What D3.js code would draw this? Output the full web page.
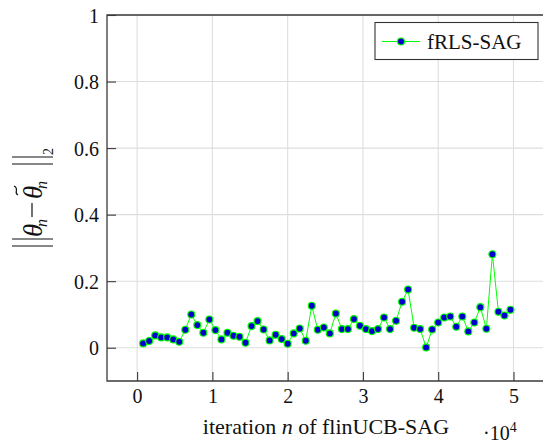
<!DOCTYPE html>
<html>
<head>
<meta charset="utf-8">
<script src="https://cdn.jsdelivr.net/npm/d3@7"></script>
<style>
  html, body { margin: 0; padding: 0; background: #fff; }
  svg { display: block; }
  text { font-family: "Liberation Serif", "DejaVu Serif", serif; fill: #111; }
</style>
</head>
<body>
<svg id="chart" width="543" height="448"></svg>
<script>
// ---- data ----
const iterations = [
  800, 1600, 2400, 3200, 4000, 4800, 5600, 6400, 7200, 8000,
  8800, 9600, 10400, 11200, 12000, 12800, 13600, 14400, 15200, 16000,
  16800, 17600, 18400, 19200, 20000, 20800, 21600, 22400, 23200, 24000,
  24800, 25600, 26400, 27200, 28000, 28800, 29600, 30400, 31200, 32000,
  32800, 33600, 34400, 35200, 36000, 36800, 37600, 38400, 39200, 40000,
  40800, 41600, 42400, 43200, 44000, 44800, 45600, 46400, 47200, 48000,
  48800, 49600
];
const errorNorm = [
  0.013, 0.020, 0.037, 0.031, 0.031, 0.025, 0.018, 0.054, 0.100, 0.068,
  0.045, 0.085, 0.053, 0.025, 0.045, 0.036, 0.033, 0.015, 0.065, 0.080,
  0.055, 0.022, 0.039, 0.026, 0.012, 0.043, 0.058, 0.021, 0.126, 0.054,
  0.061, 0.043, 0.103, 0.056, 0.056, 0.086, 0.066, 0.056, 0.050, 0.056,
  0.091, 0.056, 0.081, 0.138, 0.175, 0.060, 0.056, 0.001, 0.055, 0.076,
  0.091, 0.094, 0.063, 0.094, 0.049, 0.076, 0.122, 0.057, 0.281, 0.108,
  0.097, 0.114
];
const xTicks = [0, 10000, 20000, 30000, 40000, 50000];
const xTickLabels = ["0", "1", "2", "3", "4", "5"];
const yTicks = [0, 0.2, 0.4, 0.6, 0.8, 1];
const yTickLabels = ["0", "0.2", "0.4", "0.6", "0.8", "1"];
const seriesName = "fRLS-SAG";

// ---- layout ----
const svg = d3.select("#chart");
const pLeft = 107, pRight = 543.6, pTop = 15, pBottom = 381;
const x = d3.scaleLinear().domain([-4000, 54000]).range([pLeft, pRight]);
const y = d3.scaleLinear().domain([-0.1, 1]).range([pBottom, pTop]);
const axisColor = "#3a3a3a";
const gridColor = "#dedede";
const serif = '"Liberation Serif", "DejaVu Serif", serif';

svg.append("defs").append("clipPath").attr("id", "plotclip")
  .append("rect").attr("x", pLeft).attr("y", pTop)
  .attr("width", pRight - pLeft).attr("height", pBottom - pTop);

// grid
const grid = svg.append("g");
grid.selectAll("line.gx").data(xTicks).enter().append("line")
  .attr("x1", d => x(d)).attr("x2", d => x(d))
  .attr("y1", pTop).attr("y2", pBottom)
  .attr("stroke", gridColor).attr("stroke-width", 1.1);
grid.selectAll("line.gy").data(yTicks).enter().append("line")
  .attr("x1", pLeft).attr("x2", pRight)
  .attr("y1", d => y(d)).attr("y2", d => y(d))
  .attr("stroke", gridColor).attr("stroke-width", 1.1);

// axes via d3 axis generators
const xAxis = d3.axisBottom(x).tickValues(xTicks).tickSize(0).tickPadding(0)
  .tickFormat((d, i) => xTickLabels[i]);
const gx = svg.append("g").attr("transform", `translate(0,${pBottom})`).call(xAxis)
  .attr("font-family", serif).attr("font-size", 20);
gx.select(".domain").remove();
gx.selectAll(".tick text")
  .attr("y", 22).attr("dy", null)
  .style("font-family", serif).style("font-size", "20px").attr("fill", "#111");
gx.selectAll(".tick").append("line")
  .attr("x1", 0).attr("x2", 0).attr("y1", 0).attr("y2", -9)
  .attr("stroke", axisColor).attr("stroke-width", 1.1);

const yAxis = d3.axisLeft(y).tickValues(yTicks).tickSize(0).tickPadding(0)
  .tickFormat((d, i) => yTickLabels[i]);
const gy = svg.append("g").attr("transform", `translate(${pLeft},0)`).call(yAxis)
  .attr("font-family", serif).attr("font-size", 20);
gy.select(".domain").remove();
gy.selectAll(".tick text")
  .attr("x", -8).attr("dy", "0.35em")
  .style("font-family", serif).style("font-size", "20px").attr("fill", "#111");
gy.selectAll(".tick").append("line")
  .attr("x1", 0).attr("x2", 9).attr("y1", 0).attr("y2", 0)
  .attr("stroke", axisColor).attr("stroke-width", 1.1);

// frame (left, top, bottom)
svg.append("path")
  .attr("d", `M${pRight},${pTop}H${pLeft}V${pBottom}H${pRight}`)
  .attr("fill", "none").attr("stroke", axisColor).attr("stroke-width", 1.3);

// data line + markers
const pts = iterations.map((n, i) => [n, errorNorm[i]]);
const plot = svg.append("g").attr("clip-path", "url(#plotclip)");
plot.append("path")
  .datum(pts)
  .attr("d", d3.line().x(d => x(d[0])).y(d => y(d[1])))
  .attr("fill", "none").attr("stroke", "#00ff00").attr("stroke-width", 1);
plot.selectAll("circle").data(pts).enter().append("circle")
  .attr("cx", d => x(d[0])).attr("cy", d => y(d[1]))
  .attr("r", 3.5)
  .attr("fill", "#0000cc").attr("stroke", "#00ff00").attr("stroke-width", 1.1);

// legend
const lg = svg.append("g");
lg.append("rect").attr("x", 375).attr("y", 22.5).attr("width", 163).attr("height", 37)
  .attr("fill", "#fff").attr("stroke", "#333").attr("stroke-width", 1.1);
lg.append("line").attr("x1", 382).attr("x2", 420).attr("y1", 41.5).attr("y2", 41.5)
  .attr("stroke", "#00ff00").attr("stroke-width", 1);
lg.append("circle").attr("cx", 401).attr("cy", 41.5).attr("r", 3.5)
  .attr("fill", "#0000cc").attr("stroke", "#00ff00").attr("stroke-width", 1.1);
lg.append("text").attr("x", 427).attr("y", 48.5)
  .style("font-size", "21px").text(seriesName);

// x axis label
const xl = svg.append("text").attr("x", 326).attr("y", 434)
  .attr("text-anchor", "middle").style("font-size", "22px");
xl.append("tspan").text("iteration ");
xl.append("tspan").style("font-style", "italic").text("n");
xl.append("tspan").text(" of flinUCB-SAG");

// x scale multiplier
const mult = svg.append("text").attr("x", 483).attr("y", 440).style("font-size", "20px");
mult.append("tspan").text("\u00B710");
mult.append("tspan").attr("dy", -8).style("font-size", "14px").text("4");

// y axis label  ||theta_n - tilde theta_n||_2  (rotated)
const yl = svg.append("g").attr("transform", "translate(42,0) rotate(-90)");
const barStroke = "#111";
[-246, -239].forEach(u => {
  yl.append("line").attr("x1", u).attr("x2", u).attr("y1", -30).attr("y2", 11)
    .attr("stroke", barStroke).attr("stroke-width", 1.2);
});
yl.append("text").attr("x", -237).attr("y", 0)
  .style("font-size", "27px").style("font-style", "italic").text("\u03B8");
yl.append("text").attr("x", -227).attr("y", 5)
  .style("font-size", "16px").style("font-style", "italic").text("n");
yl.append("line").attr("x1", -217).attr("x2", -203).attr("y1", -10).attr("y2", -10)
  .attr("stroke", barStroke).attr("stroke-width", 1.2);
yl.append("text").attr("x", -199).attr("y", 0)
  .style("font-size", "27px").style("font-style", "italic").text("\u03B8");
yl.append("path").attr("d", "M-195,-24 C-193,-29 -189,-22 -186,-28")
  .attr("fill", "none").attr("stroke", barStroke).attr("stroke-width", 1.2);
yl.append("text").attr("x", -189).attr("y", 5)
  .style("font-size", "16px").style("font-style", "italic").text("n");
[-164, -157].forEach(u => {
  yl.append("line").attr("x1", u).attr("x2", u).attr("y1", -30).attr("y2", 11)
    .attr("stroke", barStroke).attr("stroke-width", 1.2);
});
yl.append("text").attr("x", -155).attr("y", 11)
  .style("font-size", "14px").text("2");
</script>
</body>
</html>
